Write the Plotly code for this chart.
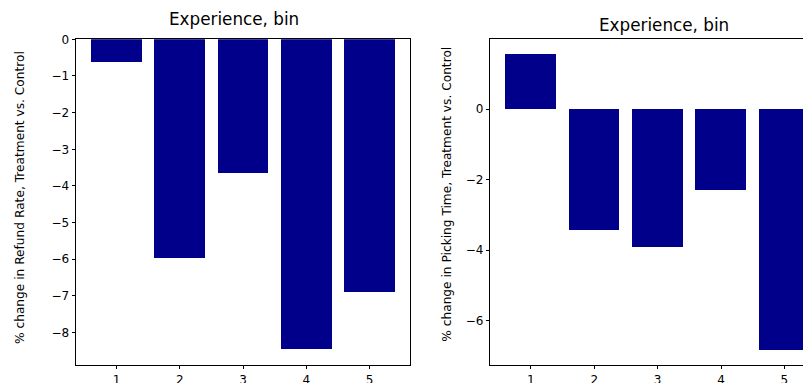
import plotly.graph_objects as go

# The page body has an 8px default margin, so the figure is drawn 8px in from the
# top-left corner; size and positions are measured in window pixels and offset.
OFF = 8
W, H = 811 - OFF, 383 - OFF

bins = [1, 2, 3, 4, 5]
refund_change = [-0.64, -5.96, -3.66, -8.46, -6.89]
picking_change = [1.56, -3.44, -3.93, -2.29, -6.84]
left_yticks = [0, -1, -2, -3, -4, -5, -6, -7, -8]
right_yticks = [0, -2, -4, -6]

title_text = "Experience, bin"
left_ylabel = "% change in Refund Rate, Treatment vs. Control"
right_ylabel = "% change in Picking Time, Treatment vs. Control"

BAR = "#00008B"
FONT = "DejaVu Sans"

def px_x(p):
    return (p - OFF) / W

def px_y(p):
    return 1 - (p - OFF) / H

fig = go.Figure()
fig.add_trace(go.Bar(x=bins, y=refund_change, width=0.8, marker=dict(color=BAR, line=dict(width=0)),
                     xaxis="x", yaxis="y", showlegend=False))
fig.add_trace(go.Bar(x=bins, y=picking_change, width=0.8, marker=dict(color=BAR, line=dict(width=0)),
                     xaxis="x2", yaxis="y2", showlegend=False))

ydom = [px_y(365), px_y(39.3)]
axis_common = dict(showgrid=False, zeroline=False, showline=True, linecolor="black", linewidth=0.8,
                   ticks="outside", ticklen=3.5, tickwidth=0.8, tickcolor="black",
                   tickfont=dict(family=FONT, size=12, color="black"), automargin=False)

fig.update_layout(
    width=W, height=H,
    margin=dict(l=0, r=0, t=0, b=0),
    paper_bgcolor="white", plot_bgcolor="white",
    font=dict(family=FONT, color="black"),
    bargap=0,
    xaxis=dict(domain=[px_x(76), px_x(410)], range=[0.36, 5.64], tickvals=bins, mirror=True,
               anchor="y", **axis_common),
    yaxis=dict(domain=ydom, range=[-8.883, 0], tickvals=left_yticks, mirror=True,
               anchor="x", **axis_common),
    xaxis2=dict(domain=[px_x(490.3), 1.0], range=[0.36, 5.42], tickvals=bins, mirror=True,
                anchor="y2", **axis_common),
    yaxis2=dict(domain=ydom, range=[-7.26, 1.98], tickvals=right_yticks, mirror=False,
                anchor="x2", **axis_common),
)

annots = [
    dict(text=title_text, x=px_x(233.5), y=px_y(19.5), size=16.8, angle=0),
    dict(text=title_text, x=px_x(663.7), y=px_y(25), size=16.8, angle=0),
    dict(text=left_ylabel, x=px_x(20), y=px_y(198), size=12.2, angle=-90),
    dict(text=right_ylabel, x=px_x(446.7), y=px_y(194), size=12.2, angle=-90),
]
for a in annots:
    fig.add_annotation(text=a["text"], x=a["x"], y=a["y"], xref="paper", yref="paper",
                       xanchor="center", yanchor="middle", showarrow=False, textangle=a["angle"],
                       font=dict(family=FONT, size=a["size"], color="black"))

fig.write_html("out.html")
